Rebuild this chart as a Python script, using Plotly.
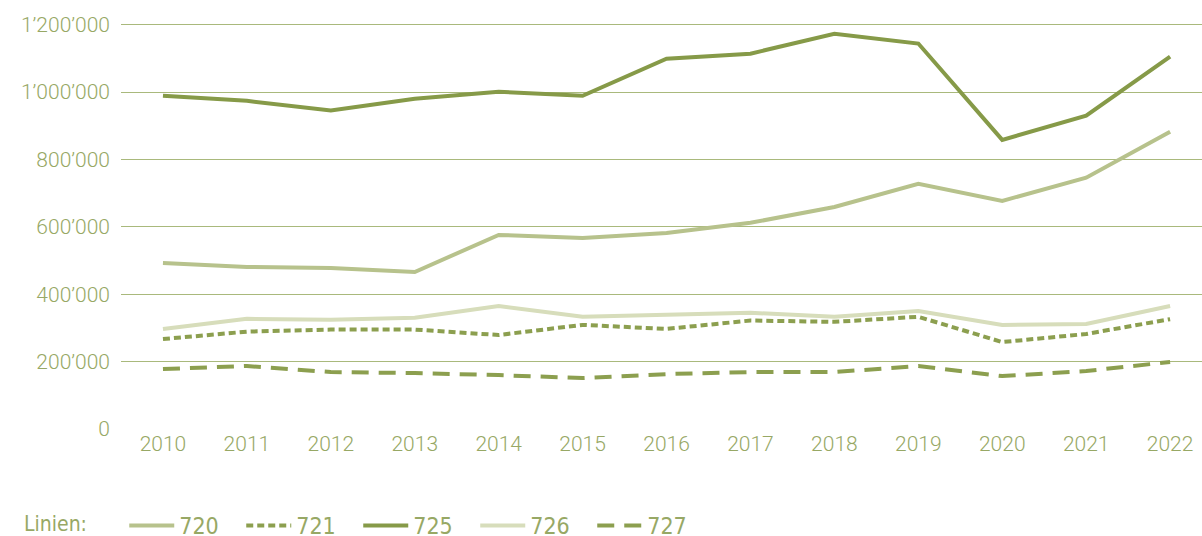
import plotly.graph_objects as go

years = ["2010", "2011", "2012", "2013", "2014", "2015", "2016", "2017", "2018", "2019", "2020", "2021", "2022"]
s720 = [493000, 481000, 478000, 466000, 576000, 567000, 582000, 612000, 659000, 728000, 677000, 746000, 882000]
s721 = [267000, 289000, 295000, 295000, 279000, 309000, 297000, 322000, 318000, 333000, 258000, 282000, 326000]
s725 = [989000, 974000, 945000, 980000, 1001000, 989000, 1099000, 1114000, 1173000, 1144000, 858000, 930000, 1105000]
s726 = [297000, 327000, 324000, 330000, 365000, 333000, 339000, 345000, 333000, 350000, 309000, 312000, 365000]
s727 = [178000, 187000, 169000, 166000, 160000, 151000, 163000, 169000, 169000, 187000, 157000, 172000, 199000]
y_ticks = [0, 200000, 400000, 600000, 800000, 1000000, 1200000]
y_labels = ["0", "200’000", "400’000", "600’000", "800’000", "1’000’000", "1’200’000"]

TXT = "#97a865"
GRID = "#a9b97c"
FONT = "Roboto"
NARROW = "Liberation Sans Narrow, DejaVu Sans Condensed, Roboto"

series = [
    ("720", s720, "#b7c28c", "solid"),
    ("721", s721, "#8c9f4f", "7px,4px"),
    ("725", s725, "#869a48", "solid"),
    ("726", s726, "#d7ddbb", "solid"),
    ("727", s727, "#8c9f4f", "17px,10px"),
]

fig = go.Figure()
for name, vals, color, dash in series:
    fig.add_trace(go.Scatter(
        x=years, y=vals, name=name, mode="lines",
        line=dict(color=color, width=4, dash=dash),
    ))

fig.add_annotation(
    text="Linien:", xref="paper", yref="paper",
    x=(22 - 121) / 1081, xanchor="left", y=(429 - 524) / 404, yanchor="middle",
    showarrow=False, font=dict(family=NARROW, size=21, color=TXT),
)

fig.update_layout(
    width=1202, height=536,
    margin=dict(l=121, r=0, t=23, b=107, autoexpand=False),
    paper_bgcolor="white", plot_bgcolor="white",
    font=dict(family=FONT, size=21, color=TXT, weight=300),
    showlegend=True,
    legend=dict(
        orientation="h", x=0.003, xanchor="left", y=(429 - 525) / 404, yanchor="middle",
        font=dict(family=NARROW, size=23, color=TXT),
        entrywidth=57, entrywidthmode="pixels",
        itemwidth=45,
        bgcolor="rgba(0,0,0,0)",
    ),
    xaxis=dict(
        type="category", range=[-0.5, 12.38], automargin=False,
        showgrid=False, showline=False, zeroline=False,
        ticks="", tickfont=dict(size=21, color=TXT, weight=300),
    ),
    yaxis=dict(
        range=[0, 1205000], tickvals=y_ticks, ticktext=y_labels, automargin=False,
        showgrid=True, gridcolor=GRID, gridwidth=1,
        zeroline=False, showline=False, ticks="",
        ticklabelstandoff=10,
        tickfont=dict(size=21, color=TXT, weight=300),
    ),
)

fig.write_html(
    "out.html",
    config={"displayModeBar": False},
    post_script="document.body.style.margin='0';document.body.style.overflow='hidden';",
)
